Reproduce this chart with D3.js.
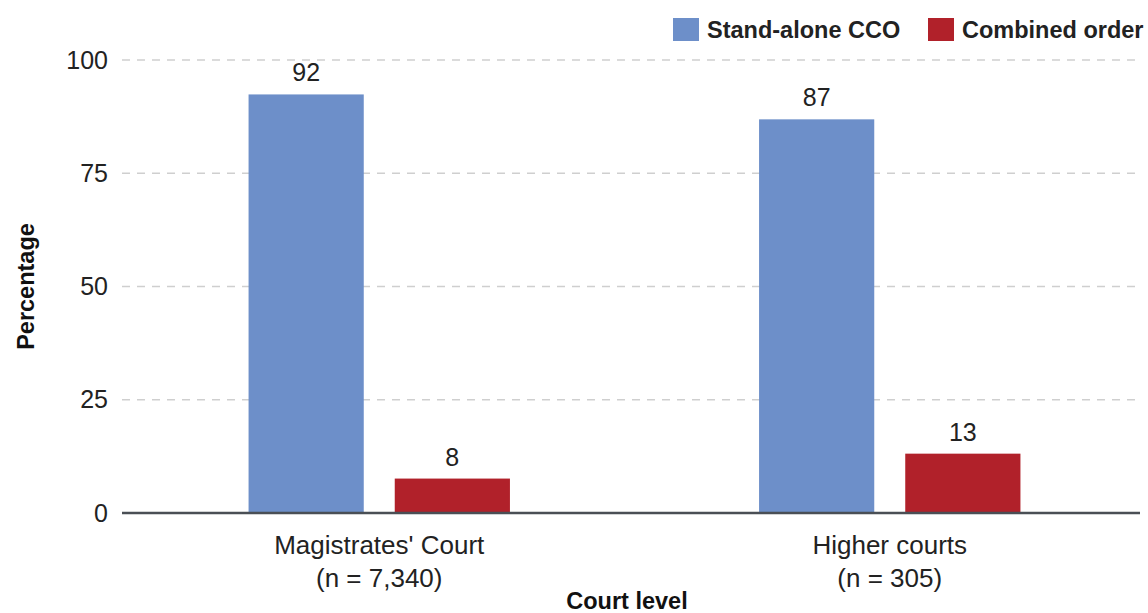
<!DOCTYPE html>
<html lang="en">
<head>
<meta charset="UTF-8">
<title>CCO by court level</title>
<script src="https://d3js.org/d3.v7.min.js"></script>
<style>
    body { margin: 0; background: #fff; font-family: "Liberation Sans", Arial, sans-serif; }
</style>
</head>
<body>
<div id="chart"></div>
<script>
    // data
    const courts = ["Magistrates' Court", "Higher courts"];
    const courtN = ["(n = 7,340)", "(n = 305)"];
    const series = ["Stand-alone CCO", "Combined order"];
    const standAlone = [92.4, 86.9];
    const combined = [7.6, 13.1];
    const yTicks = [0, 25, 50, 75, 100];
    const colors = ["#6d8fc9", "#b1212a"];

    const width = 1148, height = 613;
    const margin = { top: 60, right: 8, bottom: 100, left: 122 };

    const svg = d3.select("#chart").append("svg")
        .attr("width", width)
        .attr("height", height);

    const y = d3.scaleLinear().domain([0, 100]).range([height - margin.bottom, margin.top]);
    const x0 = d3.scaleBand().domain(courts)
        .range([124, 1145])
        .paddingInner(0.488).paddingOuter(0.244);
    const x1 = d3.scaleBand().domain(series)
        .range([0, x0.bandwidth()])
        .paddingInner(0.212);

    // gridlines
    svg.append("g")
        .selectAll("line")
        .data(yTicks.filter(t => t > 0))
        .join("line")
        .attr("x1", margin.left)
        .attr("x2", width - margin.right)
        .attr("y1", d => y(d))
        .attr("y2", d => y(d))
        .attr("stroke", "#cfcfcf")
        .attr("stroke-width", 1.3)
        .attr("stroke-dasharray", "8,7");

    // y axis labels
    const yAxis = svg.append("g")
        .attr("transform", `translate(${margin.left},0)`)
        .call(d3.axisLeft(y).tickValues(yTicks).tickSize(0).tickPadding(14));
    yAxis.select(".domain").remove();
    yAxis.selectAll("text")
        .style("font-family", "'Liberation Sans', Arial, sans-serif")
        .style("font-size", "25px")
        .attr("fill", "#222");

    const rows = courts.map((c, i) => ({ court: c, values: [standAlone[i], combined[i]] }));

    const groups = svg.append("g")
        .selectAll("g")
        .data(rows)
        .join("g")
        .attr("transform", d => `translate(${x0(d.court)},0)`);

    groups.selectAll("rect")
        .data(d => d.values.map((v, j) => ({ key: series[j], value: v, j })))
        .join("rect")
        .attr("x", d => x1(d.key))
        .attr("width", x1.bandwidth())
        .attr("y", d => y(d.value))
        .attr("height", d => y(0) - y(d.value))
        .attr("fill", d => colors[d.j]);

    groups.selectAll("text.val")
        .data(d => d.values.map((v, j) => ({ key: series[j], value: v })))
        .join("text")
        .attr("class", "val")
        .attr("x", d => x1(d.key) + x1.bandwidth() / 2)
        .attr("y", d => y(d.value) - 13)
        .attr("text-anchor", "middle")
        .style("font-size", "25px")
        .attr("fill", "#222")
        .text(d => Math.round(d.value));

    // baseline
    svg.append("line")
        .attr("x1", margin.left)
        .attr("x2", width - margin.right)
        .attr("y1", y(0))
        .attr("y2", y(0))
        .attr("stroke", "#4a4f55")
        .attr("stroke-width", 2.5);

    // category labels
    const cat = svg.append("g")
        .selectAll("text")
        .data(courts)
        .join("text")
        .attr("x", d => x0(d) + x0.bandwidth() / 2)
        .attr("y", y(0) + 41)
        .attr("text-anchor", "middle")
        .style("font-size", "26px")
        .attr("fill", "#222");
    cat.append("tspan").text(d => d);
    cat.append("tspan")
        .attr("x", d => x0(d) + x0.bandwidth() / 2)
        .attr("dy", 33)
        .text((d, i) => courtN[i]);

    // axis titles
    svg.append("text")
        .attr("x", 627)
        .attr("y", 609)
        .attr("text-anchor", "middle")
        .style("font-size", "23.5px")
        .style("font-weight", "bold")
        .attr("fill", "#111")
        .text("Court level");

    svg.append("text")
        .attr("transform", `translate(34,${y(50)}) rotate(-90)`)
        .attr("text-anchor", "middle")
        .style("font-size", "23.5px")
        .style("font-weight", "bold")
        .attr("fill", "#111")
        .text("Percentage");

    // legend
    const legendX = [673, 928];
    const legend = svg.append("g")
        .selectAll("g")
        .data(series)
        .join("g")
        .attr("transform", (d, i) => `translate(${legendX[i]},18)`);
    legend.append("rect")
        .attr("width", 26)
        .attr("height", 23)
        .attr("fill", (d, i) => colors[i]);
    legend.append("text")
        .attr("x", 34)
        .attr("y", 20)
        .style("font-size", "23.5px")
        .style("font-weight", "bold")
        .attr("fill", "#222")
        .text(d => d);
</script>
</body>
</html>
